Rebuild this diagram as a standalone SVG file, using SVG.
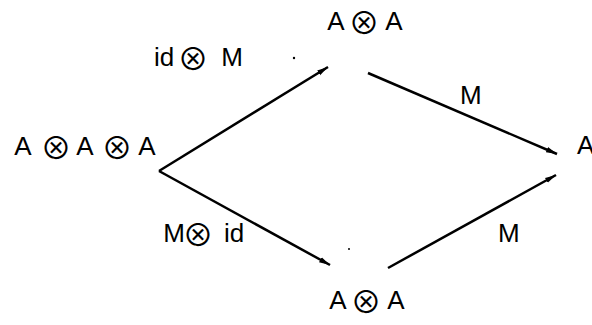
<svg xmlns="http://www.w3.org/2000/svg" width="592" height="325" viewBox="0 0 592 325">
  <style>
    .t { font-family: "Liberation Sans", "DejaVu Sans", sans-serif; font-size: 26px; fill: #000; }
    .ot { font-family: "Noto Sans CJK JP", "DejaVu Sans", sans-serif; font-size: 31px; }
    .edge { stroke: #000; stroke-width: 2.5; fill: none; marker-end: url(#arr); }
  </style>
  <defs>
    <marker id="arr" markerUnits="userSpaceOnUse" markerWidth="12" markerHeight="8" refX="11" refY="4" orient="auto">
      <path d="M0,1.2 L11,4 L0,6.8 Z" fill="#000"/>
    </marker>
  </defs>

  <g id="n-aaa">
    <text class="t" y="155" text-anchor="middle"><tspan x="23">A</tspan><tspan class="ot" x="56" y="159">⊗</tspan><tspan x="85" y="155">A</tspan><tspan class="ot" x="117" y="159">⊗</tspan><tspan x="147" y="155">A</tspan></text>
  </g>
  <g id="n-top">
    <text class="t" y="30" text-anchor="middle"><tspan x="336">A</tspan><tspan class="ot" x="364" y="34">⊗</tspan><tspan x="394" y="30">A</tspan></text>
  </g>
  <g id="n-bottom">
    <text class="t" y="309" text-anchor="middle"><tspan x="338">A</tspan><tspan class="ot" x="366" y="313">⊗</tspan><tspan x="396" y="309">A</tspan></text>
  </g>
  <g id="n-right">
    <text class="t" x="577" y="154">A</text>
  </g>

  <g id="connectors">
    <line class="edge" x1="159" y1="171" x2="328" y2="67"/>
    <line class="edge" x1="159" y1="171" x2="330" y2="265"/>
    <line class="edge" x1="368" y1="73" x2="557" y2="154"/>
    <line class="edge" x1="388" y1="268" x2="556" y2="175"/>
  </g>

  <g id="labels">
    <text class="t" y="66" text-anchor="middle"><tspan x="164">id</tspan><tspan class="ot" x="193" y="70">⊗</tspan><tspan x="232" y="66">M</tspan></text>
    <text class="t" y="242" text-anchor="middle"><tspan x="174">M</tspan><tspan class="ot" x="198" y="246">⊗</tspan><tspan x="234" y="242">id</tspan></text>
    <text class="t" x="460" y="104">M</text>
    <text class="t" x="498" y="242">M</text>
  </g>

  <circle cx="294" cy="58" r="1.2" fill="#000"/>
  <circle cx="349" cy="249" r="1" fill="#000"/>
</svg>
